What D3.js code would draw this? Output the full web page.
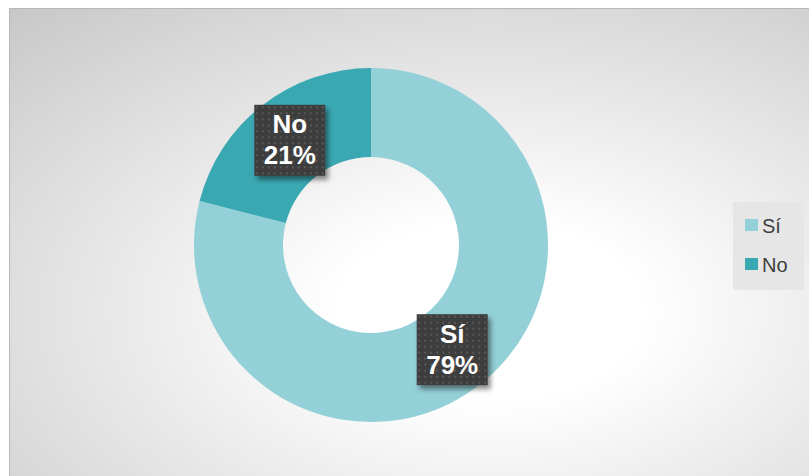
<!DOCTYPE html>
<html>
<head>
<meta charset="utf-8">
<script src="https://cdn.jsdelivr.net/npm/d3@7"></script>
<style>
  body { margin: 0; background: #fff; }
  svg { display: block; font-family: "Liberation Sans", Arial, sans-serif; }
</style>
</head>
<body>
<svg id="chart" width="809" height="476"></svg>
<script>
const categories = ["Sí", "No"];
const values = [79, 21];
const colors = ["#93d0d7", "#3aa8b2"];
const labels = ["79%", "21%"];

const w = 809, h = 476;
const svg = d3.select("#chart");
const defs = svg.append("defs");

// background gradient, light toward the lower middle
let bg = defs.append("radialGradient").attr("id", "bg")
  .attr("cx", 0.6).attr("cy", 0.65).attr("r", 0.95);
bg.append("stop").attr("offset", "20%").attr("stop-color", "#ffffff");
bg.append("stop").attr("offset", "100%").attr("stop-color", "#c2c2c2");

// dotted label pattern
let pat = defs.append("pattern").attr("id", "dots")
  .attr("patternUnits", "userSpaceOnUse").attr("width", 6).attr("height", 6);
pat.append("rect").attr("width", 6).attr("height", 6).attr("fill", "#3d3d3d");
pat.append("rect").attr("x", 2).attr("y", 2).attr("width", 2).attr("height", 2).attr("fill", "#585858");

let shadow = defs.append("filter").attr("id", "shadow")
  .attr("x", "-20%").attr("y", "-20%").attr("width", "150%").attr("height", "150%");
shadow.append("feDropShadow").attr("dx", 3).attr("dy", 4).attr("stdDeviation", 2.5)
  .attr("flood-color", "#000").attr("flood-opacity", 0.45);

svg.append("rect").attr("x", 9).attr("y", 8).attr("width", w - 9).attr("height", h - 8)
  .attr("fill", "url(#bg)");
svg.append("line").attr("x1", 9).attr("x2", w).attr("y1", 8.5).attr("y2", 8.5)
  .attr("stroke", "#b8b8b8");
svg.append("line").attr("x1", 9.5).attr("x2", 9.5).attr("y1", 8).attr("y2", h)
  .attr("stroke", "#b8b8b8");

// donut
const cx = 371, cy = 245, outerR = 177, innerR = 88;
const pie = d3.pie().sort(null).value(d => d);
const arc = d3.arc().innerRadius(innerR).outerRadius(outerR);
const g = svg.append("g").attr("transform", `translate(${cx},${cy})`);
const arcs = pie(values);

g.selectAll("path.slice").data(arcs).enter().append("path")
  .attr("class", "slice")
  .attr("d", arc)
  .attr("fill", (d, i) => colors[i]);

// data labels
const boxW = 71, boxH = 71;
const lbl = g.selectAll("g.lbl").data(arcs).enter().append("g")
  .attr("class", "lbl")
  .attr("transform", d => {
    let c = arc.centroid(d);
    return `translate(${c[0]},${c[1]})`;
  });
lbl.append("rect")
  .attr("x", -boxW / 2).attr("y", -boxH / 2)
  .attr("width", boxW).attr("height", boxH)
  .attr("fill", "url(#dots)")
  .attr("filter", "url(#shadow)");
lbl.append("text")
  .attr("text-anchor", "middle").attr("y", -7)
  .attr("fill", "#fff").attr("font-size", 26).attr("font-weight", "bold")
  .text((d, i) => categories[i]);
lbl.append("text")
  .attr("text-anchor", "middle").attr("y", 24)
  .attr("fill", "#fff").attr("font-size", 26).attr("font-weight", "bold")
  .text((d, i) => labels[i]);

// legend
const legend = svg.append("g").attr("transform", "translate(733,202)");
legend.append("rect").attr("width", 71).attr("height", 88).attr("fill", "#e6e6e6");
const ly = d3.scalePoint().domain(categories).range([23, 62]);
const item = legend.selectAll("g.item").data(categories).enter().append("g")
  .attr("class", "item")
  .attr("transform", d => `translate(12,${ly(d)})`);
item.append("rect").attr("x", 0).attr("y", -6).attr("width", 13).attr("height", 12)
  .attr("fill", (d, i) => colors[i]);
item.append("text").attr("x", 17).attr("y", 7.5)
  .attr("font-size", 20).attr("fill", "#404040")
  .text(d => d);
</script>
</body>
</html>
